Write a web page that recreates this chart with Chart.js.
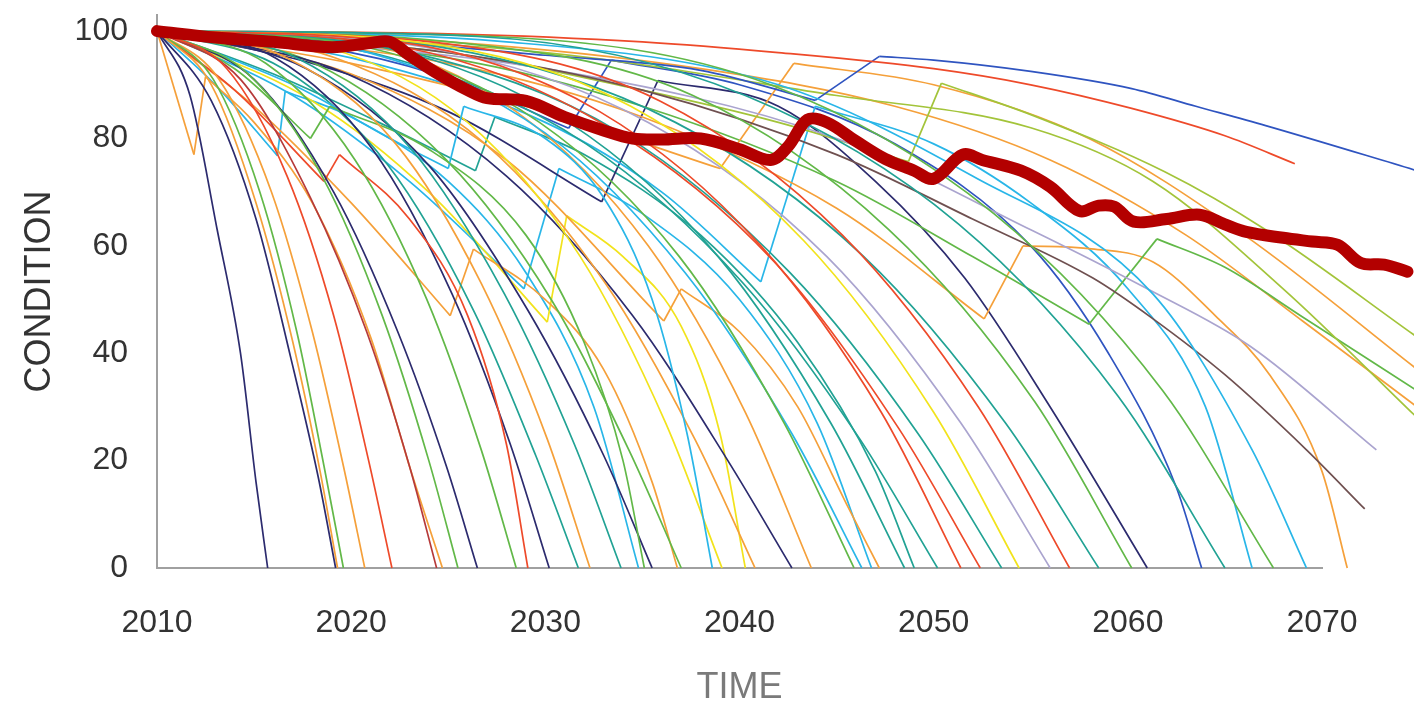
<!DOCTYPE html>
<html>
<head>
<meta charset="utf-8">
<script src="https://cdn.jsdelivr.net/npm/chart.js@4/dist/chart.umd.min.js"></script>
<style>
html, body { margin: 0; padding: 0; background: #fff; }
</style>
</head>
<body>
<canvas id="condition-chart" width="1414" height="707"></canvas>
<script>
// axis ticks
const xTicks = [2010, 2020, 2030, 2040, 2050, 2060, 2070];
const yTicks = [0, 20, 40, 60, 80, 100];

// mean condition of the whole network, [year, condition]
const averageCondition = [
    [2010, 100], [2013, 98.8], [2016, 98], [2019, 97], [2021, 97.8], [2022, 98],
    [2023, 95.5], [2024.5, 92], [2026, 89], [2027, 87.5], [2029, 87], [2031, 84],
    [2033, 81.5], [2034.5, 80], [2036, 79.8], [2038, 80], [2040, 78], [2041.6, 76],
    [2042.5, 78.5], [2043.5, 83.5], [2044.5, 83], [2046, 79.5], [2047.5, 76.2],
    [2049, 74], [2050, 72.5], [2051.5, 77], [2052.5, 76], [2054.5, 74], [2056, 71],
    [2057.5, 66.5], [2058.5, 67.5], [2059.3, 67.3], [2060.3, 64.5], [2062, 65],
    [2063.7, 65.8], [2065, 64], [2066.1, 62.6], [2068, 61.5], [2069.5, 60.8],
    [2070.8, 60.2], [2072, 56.8], [2073.2, 56.5], [2074.4, 55.2]
];

// single asset runs, [year, condition]; a rise is a renewal
const conditionRuns = [
    [[2010,100],[2011.7,88],[2013.1,63],[2014.3,40],[2015.1,16],[2015.7,0]],
    [[2010,100],[2012.8,87],[2015.1,65],[2016.9,39],[2018.3,17],[2019.2,0]],
    [[2010,100],[2012.8,90],[2015.1,68],[2017,42],[2018.4,18],[2019.3,0]],
    [[2010,100],[2012.9,91],[2015.3,70],[2017.2,44],[2018.6,19],[2019.6,0]],
    [[2010,100],[2013.2,91],[2015.9,70],[2018,44],[2019.6,19],[2020.7,0]],
    [[2010,100],[2013.6,93],[2016.7,73],[2019.1,47],[2020.9,20],[2022.1,0]],
    [[2010,100],[2014.3,91],[2017.9,69],[2020.8,44],[2023,19],[2024.4,0]],
    [[2010,100],[2011.9,77],[2012.5,91.5],[2015,83],[2018,68],[2021,43],[2023,19],[2024.7,0]],
    [[2010,100],[2014.7,92],[2018.5,73],[2021.6,47],[2024,20],[2025.5,0]],
    [[2010,100],[2015,91],[2019.1,70],[2022.4,44],[2024.9,19],[2026.5,0]],
    [[2010,100],[2015.6,94],[2020.2,76],[2023.9,50],[2026.7,22],[2028.5,0]],
    [[2010,100],[2014,89],[2018.6,72],[2019.4,77],[2023,65],[2026,47],[2028,23],[2029.1,0]],
    [[2010,100],[2016.1,95],[2021.1,78],[2025.2,51],[2028.2,23],[2030.2,0]],
    [[2010,100],[2016.7,95],[2022.3,79],[2026.7,53],[2030.1,24],[2032.3,0]],
    [[2010,100],[2017.2,95],[2023.1,78],[2027.9,51],[2031.5,23],[2033.9,0]],
    [[2010,100],[2014,93],[2017.9,80],[2018.9,86],[2024,78],[2029,62],[2032,42],[2034,20],[2035.1,0]],
    [[2010,100],[2017.7,93],[2024,75],[2029.1,48],[2033,21],[2035.5,0]],
    [[2010,100],[2017,90],[2022,80],[2025,74.4],[2025.8,86],[2030,80],[2033,69],[2035.5,50],[2037.3,25],[2038.6,0]],
    [[2010,100],[2018.7,97],[2026,83],[2031.8,58],[2036.2,27],[2039.1,0]],
    [[2010,100],[2019.2,95],[2026.9,79],[2033.1,53],[2037.7,24],[2040.8,0]],
    [[2010,100],[2019.8,92],[2028,73],[2034.5,47],[2039.4,20],[2042.7,0]],
    [[2010,100],[2020.8,97],[2029.7,83],[2036.9,58],[2042.3,27],[2045.9,0]],
    [[2010,100],[2020.9,96],[2030,81],[2037.2,55],[2042.7,25],[2046.3,0]],
    [[2010,100],[2021.6,97],[2031.2,83],[2038.9,58],[2044.7,27],[2048.5,0]],
    [[2010,100],[2022.4,98],[2032.8,85],[2041.1,60],[2047.3,29],[2051.4,0]],
    [[2010,100],[2022.7,97],[2033.3,82],[2041.8,57],[2048.2,26],[2052.4,0]],
    [[2010,100],[2023.3,98],[2034.4,86],[2043.3,61],[2050,29],[2054.4,0]],
    [[2010,100],[2023.8,97],[2035.3,83],[2044.5,58],[2051.4,27],[2056,0]],
    [[2010,100],[2024.1,98],[2035.9,87],[2045.3,62],[2052.3,30],[2057,0]],
    [[2010,100],[2024.6,97],[2036.7,83],[2046.4,58],[2053.7,27],[2058.5,0]],
    [[2010,100],[2025.1,98],[2037.6,88],[2047.7,63],[2055.2,31],[2060.2,0]],
    [[2010,100],[2026.5,99],[2040.3,88],[2051.3,64],[2059.5,32],[2065,0]],
    [[2010,100],[2027.3,99],[2041.6,90],[2053.1,66],[2061.8,33],[2067.5,0]],
    [[2010,100],[2028,98],[2042,90],[2052,73],[2061.3,51],[2066.4,22],[2069.2,0]],
    [[2010,100],[2022.1,95],[2032.1,79],[2040.2,53],[2046.2,24],[2050.2,0]],
    [[2010,100],[2023.1,96],[2033.9,81],[2042.6,55],[2049.2,25],[2053.5,0]],
    [[2010,100],[2020.1,98],[2028.5,85],[2035.3,60],[2040.3,29],[2043.7,0]],
    [[2010,100],[2018.1,94],[2024.9,76],[2030.3,50],[2034.3,22],[2037,0]],
    [[2010,100],[2020,92],[2028,76],[2036.1,46],[2037,52],[2040,44],[2043,30],[2045.5,12],[2047.2,0]],
    [[2010,100],[2016.5,93],[2021.9,75],[2026.3,48],[2029.5,21],[2031.7,0]],
    [[2010,100],[2025,99.5],[2035,98],[2042,96],[2050,93],[2055,90],[2060.2,85.6],[2065,80.5],[2068.6,75.3]],
    [[2010,100],[2020,98.5],[2030,95.5],[2038,92.7],[2043.9,87.1],[2047.2,95.3],[2050,94.6],[2055,92.5],[2060.2,89.3],[2063.5,86],[2067.1,82.4],[2074.9,74]],
    [[2010,100],[2025,96],[2035,89],[2045,77],[2052,65],[2058.2,54],[2061.3,46.4],[2065,36],[2069.2,22],[2072.2,11]],
    [[2010,100],[2030,93],[2045,80],[2055,63],[2061,52],[2066.3,41.3],[2072.8,22]],
    [[2010,100],[2030,96],[2045,88],[2055,82],[2061.3,72],[2068,52],[2074.9,28]],
    [[2010,100],[2025,96],[2035,89],[2042,83],[2048.7,75.7],[2050.4,90.3],[2055.1,84.3],[2061.9,73.8],[2067.1,63],[2074.9,43]],
    [[2010,100],[2020,94],[2030,85],[2039,74.4],[2042.8,94],[2050,90],[2058,80],[2066,62],[2074.9,37]],
    [[2010,100],[2025,95],[2035,86],[2045,72],[2052,58],[2058,45.4],[2061.5,61.3],[2065,56],[2068.9,47],[2074.9,33]],
    [[2010,100],[2025,94],[2035,84],[2045,67],[2052.6,46.4],[2054.6,60],[2058,59.5],[2061.3,57],[2064.5,47],[2067.3,36],[2070,18],[2071.3,0]],
    [[2010,100],[2020,95],[2030,83],[2036,70],[2041.1,53.3],[2043.9,86],[2050,79],[2055,68],[2060,52],[2064,30],[2066.4,0]],
    [[2010,100],[2020,96],[2026,90],[2031.2,81.9],[2033.4,94.6],[2040,90],[2048,79],[2055,60],[2059,40],[2062.5,15],[2063.8,0]],
    [[2010,100],[2018,94],[2025,85],[2032.9,68.2],[2035.8,90.8],[2042,86],[2047,72],[2051.6,54],[2056,30],[2061,0]],
    [[2010,100],[2015,86],[2020,68],[2025.1,47],[2026.3,59.4],[2030,50],[2033,37],[2035.5,16],[2036.8,0]],
    [[2010,100],[2018,87],[2024,70],[2030.1,45.8],[2031.1,65.6],[2034,58],[2037,45],[2039,25],[2040.3,0]],
    [[2010,100],[2017,88],[2023,72],[2028.9,52],[2030.7,74.4],[2035,66],[2040,50],[2044,27],[2046.8,0]],
    [[2010,100],[2013,90],[2016.2,76.8],[2016.6,88.8],[2020,84],[2025,72],[2029,55],[2032.5,30],[2034.8,0]],
    [[2010,100],[2016,92],[2022,82],[2026.4,74],[2027.4,84],[2032,77],[2038,62],[2043,42],[2047,18],[2049,0]],
    [[2010,100],[2025,98],[2038,93],[2048,86],[2056,76],[2063,62],[2069,46],[2074.9,30]]
];

// styling
const palette = {
    navy: '#2c2b6e', blue: '#2f54c0', cyan: '#29b6e8', teal: '#21a294',
    green: '#62b848', olive: '#a3c43a', yellow: '#f2e31c', orange: '#f5a03a',
    red: '#ee4a2a', darkred: '#b63a3a', lavender: '#aaa4cf', brown: '#6f5050'
};
const runColors = [
    'navy', 'navy', 'orange', 'green', 'orange', 'red', 'darkred', 'orange', 'green', 'navy',
    'green', 'red', 'navy', 'orange', 'teal', 'green', 'navy', 'cyan', 'yellow', 'orange',
    'navy', 'green', 'cyan', 'teal', 'red', 'red', 'yellow', 'lavender', 'red', 'teal',
    'green', 'teal', 'green', 'cyan', 'teal', 'teal', 'orange', 'green', 'orange', 'teal',
    'red', 'blue', 'brown', 'lavender', 'olive', 'olive', 'orange', 'green', 'orange', 'cyan',
    'blue', 'navy', 'orange', 'yellow', 'cyan', 'cyan', 'teal', 'orange'
];

const toPoints = rows => rows.map(r => ({ x: r[0], y: r[1] }));

// cut a run at every renewal: smooth decay pieces, straight jumps
function splitRun(run) {
    const pieces = [];
    let cur = [run[0]];
    for (let i = 1; i < run.length; i++) {
        const prev = run[i - 1], p = run[i];
        if (p[1] > prev[1]) {
            pieces.push({ pts: cur, smooth: true });
            pieces.push({ pts: [prev, p], smooth: false });
            cur = [p];
        } else {
            cur.push(p);
        }
    }
    pieces.push({ pts: cur, smooth: true });
    return pieces.filter(pc => pc.pts.length > 1);
}

const datasets = [{
    label: 'Average',
    data: toPoints(averageCondition),
    borderColor: '#b30000',
    borderWidth: 12,
    borderCapStyle: 'round',
    borderJoinStyle: 'round',
    tension: 0.35,
    pointRadius: 0,
    clip: false,
    order: 0
}];
conditionRuns.forEach((run, i) => {
    splitRun(run).forEach(piece => {
        datasets.push({
            label: 'Run ' + (i + 1),
            data: toPoints(piece.pts),
            borderColor: palette[runColors[i]],
            borderWidth: 1.7,
            cubicInterpolationMode: piece.smooth ? 'monotone' : 'default',
            tension: 0,
            pointRadius: 0,
            clip: false,
            order: 1
        });
    });
});

const font = 'Liberation Sans, Arial, sans-serif';

const ctx = document.getElementById('condition-chart').getContext('2d');
const conditionChart = new Chart(ctx, {
    type: 'line',
    data: { datasets: datasets },
    options: {
        responsive: false,
        animation: false,
        layout: { padding: { top: 15, right: 92, bottom: 0, left: 0 } },
        plugins: {
            legend: { display: false },
            tooltip: { enabled: false }
        },
        scales: {
            x: {
                type: 'linear',
                bounds: 'data',
                // range set after the data limits so runs past 2070 are still drawn
                afterDataLimits: axis => { axis.min = 2010; axis.max = 2070; },
                grid: { display: false, drawTicks: false, tickLength: 0 },
                border: { display: true, color: '#a0a0a0', width: 2 },
                afterBuildTicks: axis => { axis.ticks = xTicks.map(v => ({ value: v })); },
                afterFit: axis => { axis.height = 139; },
                ticks: {
                    color: '#333',
                    font: { family: font, size: 32 },
                    padding: 36,
                    maxRotation: 0,
                    autoSkip: false,
                    callback: v => String(v)
                },
                title: {
                    display: true,
                    text: 'TIME',
                    color: '#7a7a7a',
                    font: { family: font, size: 36, lineHeight: 1 },
                    padding: { top: 29, bottom: 1 }
                }
            },
            y: {
                min: 0,
                max: 103,
                grid: { display: false, drawTicks: false, tickLength: 0 },
                border: { display: true, color: '#a0a0a0', width: 2 },
                afterBuildTicks: axis => { axis.ticks = yTicks.map(v => ({ value: v })); },
                afterFit: axis => {
                    axis.width = 157;
                    axis.paddingTop = 0;
                    axis.paddingBottom = 0;
                },
                ticks: {
                    color: '#333',
                    font: { family: font, size: 32 },
                    padding: 29,
                    autoSkip: false
                },
                title: {
                    display: true,
                    text: 'CONDITION',
                    color: '#333',
                    font: { family: font, size: 36, lineHeight: 1 },
                    padding: { top: 22, bottom: 0 }
                }
            }
        }
    }
});
</script>
</body>
</html>
